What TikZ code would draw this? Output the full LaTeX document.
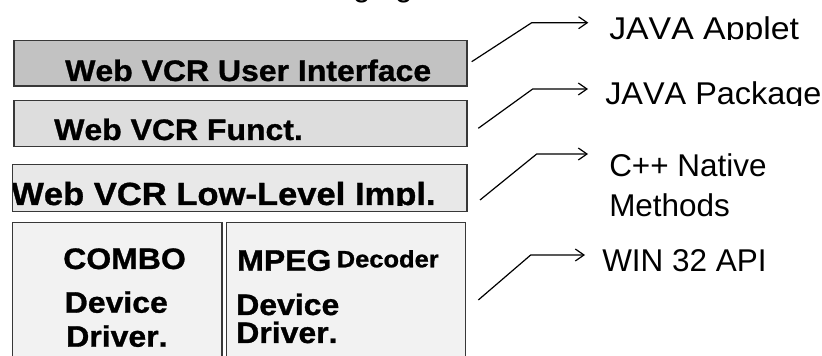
\documentclass[tikz,border=0pt]{standalone}
\usepackage{fontspec}
\setmainfont[Kerning=Off]{Liberation Sans}
\newfontfamily\boxfont[FakeStretch=1.08,Kerning=Off,FakeBold=1]{Liberation Sans}
\usetikzlibrary{arrows.meta}
\definecolor{edge}{gray}{0.22}
\definecolor{layerA}{gray}{0.76}
\definecolor{layerB}{gray}{0.865}
\definecolor{layerC}{gray}{0.91}
\definecolor{layerD}{gray}{0.95}
% letters set one by one, so that no pair is kerned
\newcommand\javaword{J\kern0ptA\kern0ptV\kern0ptA}
\begin{document}
\begin{tikzpicture}[x=0.75pt,y=-0.75pt,
  layer/.style={draw=edge, line width=0.9pt},
  boxlabel/.style={anchor=base west, inner sep=0pt,
    font=\boxfont\bfseries\fontsize{22.2}{26}\selectfont},
  biglabel/.style={boxlabel, font=\boxfont\bfseries\fontsize{24}{28}\selectfont},
  smalllabel/.style={boxlabel, font=\boxfont\bfseries\fontsize{17.7}{21}\selectfont},
  sidelabel/.style={anchor=base west, inner sep=0pt,
    font=\fontsize{23.6}{28}\selectfont},
  widelabel/.style={sidelabel,
    font=\addfontfeature{FakeStretch=#1}\fontsize{23.6}{28}\selectfont},
  link/.style={line width=0.9pt, line join=round,
    -{Straight Barb[length=6.5pt, width=9pt, line width=0.9pt]}}
]
\useasboundingbox (0,0) rectangle (822,356);

% heading above the stack (only its lowest strokes fall on the page)
\node[sidelabel, anchor=base east] (heading) at (413,-3.6) {Packaging};

% layer boxes
\path[layer, fill=layerA] (14,40.7) rectangle (467,86);
\path[layer, fill=layerB] (14,100.7) rectangle (467,146.7);
\path[layer, fill=layerC] (12.7,164.7) rectangle (467,211.7);
\path[layer, fill=layerD] (12.7,222.3) rectangle (222,372);
\path[layer, fill=layerD] (226.7,222.3) rectangle (465.7,372);

% layer captions
\node[boxlabel] (ui) at (65,81) {Web VCR User Interface};
\node[boxlabel] (fn) at (54,140) {Web VCR Funct.};
\begin{scope}
  \clip (13.2,165) rectangle (466.5,205.6);
  \node[biglabel] (ll) at (11,205) {Web VCR Low-Level Impl.};
\end{scope}
\node[boxlabel] (combo) at (63,269) {COMBO};
\node[boxlabel] (dev1) at (64.5,312.7) {Device};
\node[boxlabel] (drv1) at (66,346.7) {Driver.};
\node[boxlabel] (mpeg) at (237,270.7) {MPEG};
\node[smalllabel] (dec) at (336.5,267.3) {Decoder};
\node[boxlabel] (dev2) at (236,315) {Device};
\node[boxlabel] (drv2) at (236,343) {Driver.};

% technology labels on the right
\begin{scope}
  \clip (590,0) rectangle (822,39.8);
  \node[widelabel=1.075] (applet) at (609,39.3) {\javaword\ Applet};
\end{scope}
\begin{scope}
  \clip (590,60) rectangle (822,105.5);
  \node[widelabel=1.03] (pkg) at (605,105) {\javaword\ Package};
\end{scope}
\node[sidelabel] (cpp) at (609,176.7) {C++ Native};
\node[sidelabel] (meth) at (609,216.7) {Methods};
\node[sidelabel] (win) at (602,271.7) {WIN 32 API};

% connector anchor points
\coordinate (s1) at (471.7,61.7);  \coordinate (k1) at (531.7,22.7); \coordinate (e1) at (588.3,22.7);
\coordinate (s2) at (478.3,128.3); \coordinate (k2) at (532.7,89);   \coordinate (e2) at (588,89);
\coordinate (s3) at (480,200);     \coordinate (k3) at (536.7,154);  \coordinate (e3) at (588,154);
\coordinate (s4) at (478.3,300);   \coordinate (k4) at (530.7,255);  \coordinate (e4) at (585,255);

\draw[link] (s1) -- (k1) -- (e1);
\draw[link] (s2) -- (k2) -- (e2);
\draw[link] (s3) -- (k3) -- (e3);
\draw[link] (s4) -- (k4) -- (e4);
\end{tikzpicture}
\end{document}
